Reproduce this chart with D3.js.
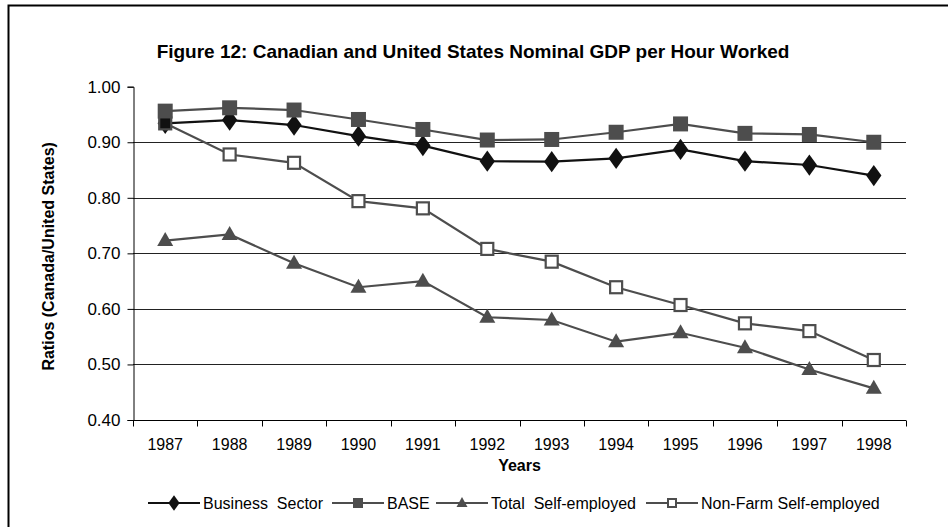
<!DOCTYPE html>
<html>
<head>
<meta charset="utf-8">
<script src="https://cdn.jsdelivr.net/npm/d3@7"></script>
<style>
  html, body { margin: 0; padding: 0; background: #fff; }
  svg { display: block; }
  text { font-family: Arial, "Liberation Sans", sans-serif; fill: #000; }
</style>
</head>
<body>
<svg id="chart" width="948" height="527"></svg>
<script>
// Ratios of Canadian to United States nominal GDP per hour worked
const years = ["1987","1988","1989","1990","1991","1992","1993","1994","1995","1996","1997","1998"];
const businessSector = [0.934, 0.940, 0.931, 0.911, 0.894, 0.866, 0.865, 0.871, 0.887, 0.866, 0.859, 0.840];
const base = [0.956, 0.962, 0.958, 0.941, 0.923, 0.904, 0.905, 0.918, 0.933, 0.916, 0.914, 0.900];
const totalSelfEmployed = [0.723, 0.734, 0.682, 0.639, 0.650, 0.585, 0.580, 0.541, 0.557, 0.530, 0.491, 0.457];
const nonFarmSelfEmployed = [0.934, 0.878, 0.863, 0.794, 0.781, 0.708, 0.685, 0.639, 0.607, 0.574, 0.560, 0.508];
const yTicks = [0.40, 0.50, 0.60, 0.70, 0.80, 0.90, 1.00];
const seriesNames = ["Business  Sector", "BASE", "Total  Self-employed", "Non-Farm Self-employed"];

const svg = d3.select("#chart");

// frame around the whole chart
svg.append("rect")
  .attr("x", 8.5).attr("y", 5.5)
  .attr("width", 960).attr("height", 540)
  .attr("fill", "none").attr("stroke", "#000").attr("stroke-width", 2);

const plot = { left: 133, right: 906, top: 86.7, bottom: 420 };

const x = d3.scaleBand().domain(years).range([plot.left, plot.right]).padding(0);
const y = d3.scaleLinear().domain([0.4, 1.0]).range([plot.bottom, plot.top]);
const cx = d => x(d) + x.bandwidth() / 2;

// title
svg.append("text")
  .attr("x", 473).attr("y", 58)
  .attr("text-anchor", "middle")
  .style("font-size", "19px").style("font-weight", "bold")
  .text("Figure 12: Canadian and United States Nominal GDP per Hour Worked");

// horizontal gridlines
svg.append("g")
  .selectAll("line")
  .data(yTicks.filter(t => t > 0.4 && t < 1.0))
  .join("line")
  .attr("x1", plot.left).attr("x2", plot.right)
  .attr("y1", d => Math.round(y(d)) + 0.5).attr("y2", d => Math.round(y(d)) + 0.5)
  .attr("stroke", "#222").attr("stroke-width", 1);

// y axis
const yAxis = svg.append("g")
  .attr("transform", `translate(${plot.left + 0.5},0)`)
  .call(d3.axisLeft(y).tickValues(yTicks).tickFormat(d3.format(".2f")).tickSize(6).tickPadding(7));
yAxis.select(".domain").attr("stroke", "#000");
yAxis.selectAll(".tick line").attr("stroke", "#000");
yAxis.selectAll(".tick text")
  .style("font-size", "17px").style("font-family", "Arial, 'Liberation Sans', sans-serif")
  .attr("fill", "#000");

// x axis with ticks on category boundaries
const xAxisG = svg.append("g")
  .attr("transform", `translate(0,${Math.round(plot.bottom) + 0.5})`);
xAxisG.append("line")
  .attr("x1", plot.left).attr("x2", plot.right)
  .attr("stroke", "#000");
xAxisG.selectAll("line.tick")
  .data(years.concat(["end"]))
  .join("line")
  .attr("class", "tick")
  .attr("x1", (d, i) => Math.round(i < years.length ? x(d) : plot.right) + 0.5)
  .attr("x2", (d, i) => Math.round(i < years.length ? x(d) : plot.right) + 0.5)
  .attr("y1", 0).attr("y2", 6)
  .attr("stroke", "#000");
xAxisG.selectAll("text")
  .data(years)
  .join("text")
  .attr("x", d => cx(d))
  .attr("y", 29)
  .attr("text-anchor", "middle")
  .style("font-size", "16px")
  .text(d => d);

// axis titles
svg.append("text")
  .attr("transform", `translate(54,${(plot.top + plot.bottom) / 2 + 3}) rotate(-90)`)
  .attr("text-anchor", "middle")
  .style("font-size", "16px").style("font-weight", "bold")
  .text("Ratios (Canada/United States)");

svg.append("text")
  .attr("x", (plot.left + plot.right) / 2).attr("y", 471)
  .attr("text-anchor", "middle")
  .style("font-size", "16px").style("font-weight", "bold")
  .text("Years");

// series definitions
const series = [
  { name: seriesNames[0], values: businessSector, color: "#111", marker: "diamond" },
  { name: seriesNames[1], values: base, color: "#4d4d4d", marker: "square" },
  { name: seriesNames[2], values: totalSelfEmployed, color: "#4d4d4d", marker: "triangle" },
  { name: seriesNames[3], values: nonFarmSelfEmployed, color: "#4d4d4d", marker: "hollow" }
];

function drawMarker(g, type, color, px, py, fillOverride) {
  if (type === "diamond") {
    g.append("path")
      .attr("d", d3.symbol(d3.symbolDiamond, 130)())
      .attr("transform", `translate(${px},${py}) scale(1.25,1)`)
      .attr("fill", color);
  } else if (type === "square") {
    g.append("rect")
      .attr("x", px - 7.5).attr("y", py - 7.5).attr("width", 15).attr("height", 15)
      .attr("fill", color);
  } else if (type === "triangle") {
    g.append("path")
      .attr("d", `M${px},${py - 8.5}L${px + 8},${py + 5.5}L${px - 8},${py + 5.5}Z`)
      .attr("fill", color);
  } else {
    g.append("rect")
      .attr("x", px - 6).attr("y", py - 6).attr("width", 12).attr("height", 12)
      .attr("fill", fillOverride || "#fff").attr("stroke", color).attr("stroke-width", 2.2);
  }
}

const line = d3.line().x(d => cx(d.year)).y(d => y(d.value));

series.forEach(s => {
  const pts = years.map((yr, i) => ({ year: yr, value: s.values[i] }));
  const g = svg.append("g");
  g.append("path")
    .datum(pts)
    .attr("d", line)
    .attr("fill", "none")
    .attr("stroke", s.color)
    .attr("stroke-width", 2.2);
  pts.forEach((p, i) => {
    // the first hollow point sits on top of the Business Sector diamond and renders solid
    const fill = (s.marker === "hollow" && i === 0) ? "#111" : null;
    drawMarker(g, s.marker, s.color, cx(p.year), y(p.value), fill);
  });
});

// legend
const legendY = 503;
const legendItems = [
  { s: series[0], x0: 148 },
  { s: series[1], x0: 332 },
  { s: series[2], x0: 436 },
  { s: series[3], x0: 646 }
];
legendItems.forEach(({ s, x0 }) => {
  const g = svg.append("g");
  g.append("line")
    .attr("x1", x0).attr("x2", x0 + 52)
    .attr("y1", legendY).attr("y2", legendY)
    .attr("stroke", s.color).attr("stroke-width", 2.2);
  if (s.marker === "diamond") {
    g.append("path")
      .attr("d", d3.symbol(d3.symbolDiamond, 70)())
      .attr("transform", `translate(${x0 + 26},${legendY}) scale(1.25,1)`)
      .attr("fill", s.color);
  } else if (s.marker === "square") {
    g.append("rect").attr("x", x0 + 21).attr("y", legendY - 5).attr("width", 10).attr("height", 10).attr("fill", s.color);
  } else if (s.marker === "triangle") {
    g.append("path")
      .attr("d", `M${x0 + 26},${legendY - 6}L${x0 + 31.5},${legendY + 4}L${x0 + 20.5},${legendY + 4}Z`)
      .attr("fill", s.color);
  } else {
    g.append("rect").attr("x", x0 + 22).attr("y", legendY - 4).attr("width", 8).attr("height", 8)
      .attr("fill", "#fff").attr("stroke", s.color).attr("stroke-width", 2);
  }
  g.append("text")
    .attr("x", x0 + 55).attr("y", legendY + 6)
    .style("font-size", "16px")
    .style("white-space", "pre")
    .attr("xml:space", "preserve")
    .text(s.name);
});
</script>
</body>
</html>
